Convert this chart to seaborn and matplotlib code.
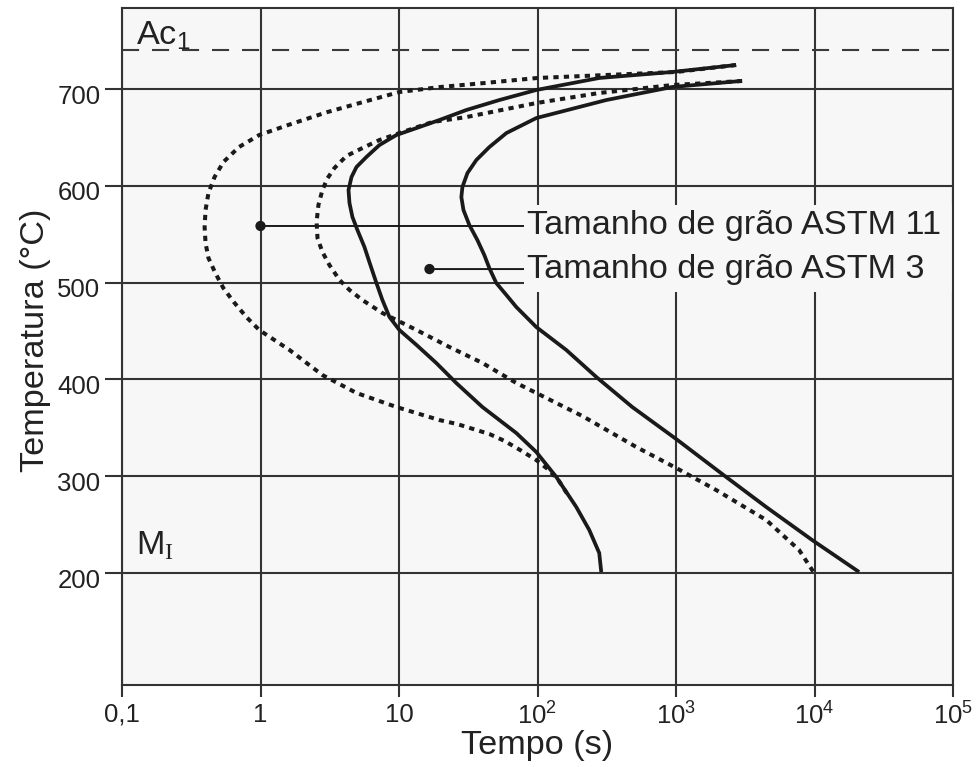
import matplotlib
matplotlib.use("Agg")
import numpy as np
import pandas as pd
import matplotlib.pyplot as plt
import seaborn as sns
from matplotlib.patches import Rectangle
from matplotlib.ticker import NullLocator, FixedLocator, FixedFormatter
from matplotlib.transforms import ScaledTranslation

# ---------------- data ----------------
# Grain size ASTM 11 - start of transformation (outer dotted curve)
t_g11_ini = [2717, 1003, 99.7, 40.0, 19.6, 10.07, 5.18, 3.01, 1.62, 0.98, 0.70, 0.54,
             0.466, 0.421, 0.401, 0.395, 0.401, 0.421, 0.472, 0.539, 0.642, 0.790,
             0.98, 1.62, 2.80, 4.93, 9.58, 19.6, 26.3, 44.9, 57.9, 74.8, 98, 121,
             143, 169.5]
T_g11_ini = [724.8, 717.6, 711.4, 706, 702, 696.9, 685.5, 676, 663.3, 652.5, 640.1,
             624.6, 609.1, 592.6, 575, 557.4, 540.9, 525.4, 509.9, 494.4, 479.9, 464.5,
             451, 430.4, 404.5, 386, 371.5, 358, 353.9, 343.6, 336.4, 327.1, 316.7,
             306.4, 295, 278.5]

# Grain size ASTM 11 - end of transformation (inner dotted curve)
t_g11_fim = [3005, 939, 279, 98, 30.6, 17.4, 10.07, 7.22, 5.35, 4.17, 3.42, 3.04, 2.80,
             2.62, 2.54, 2.58, 2.80, 3.15, 3.72, 4.39, 5.44, 7.59, 13.4, 23.1, 40, 70.3,
             98, 210.6, 516, 1003, 1950, 4478, 7740, 9937]
T_g11_fim = [708.3, 704.1, 695.9, 685.5, 671, 665.9, 654.5, 647.3, 638.5, 630.8, 618.4,
             607.6, 595.7, 580.2, 562.6, 546, 531.6, 518, 502.7, 492.4, 482, 468.6, 451,
             433.5, 417, 396.3, 386, 362.2, 330.2, 308.5, 285.7, 254.8, 223.8, 200]

# Grain size ASTM 3 - start of transformation (left solid curve)
t_g3_ini = [2717, 939, 279, 98, 53, 30.6, 19.6, 13.4, 9.58, 7.22, 5.82, 4.93, 4.54,
            4.32, 4.39, 4.61, 5.01, 5.63, 6.11, 6.87, 7.59, 8.53, 10.07, 13.4, 18.6,
            25.9, 40, 70.3, 98, 136.7, 190.5, 236.5, 279, 288.6]
T_g3_ini = [724.8, 717.6, 711.4, 699, 688.6, 678.3, 668, 659.7, 652.5, 642.1, 629.8,
            619.4, 609.1, 595.7, 582.2, 567.8, 554.3, 536.8, 521.3, 499.6, 482, 464.5,
            451, 435.5, 416.9, 396.3, 371.5, 344.6, 325, 299.2, 268.2, 244.4, 220.7, 201]

# Grain size ASTM 3 - end of transformation (right solid curve)
t_g3_fim = [2953, 939, 313.6, 98, 59.6, 44.9, 36.2, 31.2, 28.7, 28.2, 29.2, 32.2, 36.8,
            41.3, 44.9, 50.4, 59.6, 70.3, 98, 161.4, 265.7, 483, 1003, 2154, 4478, 9610,
            21000]
T_g3_fim = [708.3, 702.1, 688.6, 670, 654.5, 640, 626.7, 613.2, 598.8, 588.4, 575,
            559.5, 544, 528.5, 515, 499.6, 487.2, 474.8, 454.1, 430.4, 402.5, 371.5,
            338.4, 302.3, 268.2, 234.1, 201]

T_ac1 = 740.3
x_ticks = [0.1, 1, 10, 100, 1000, 10000, 100000]
x_labels = ["0,1", "1", "10", r"10$^\mathsf{2}$", r"10$^\mathsf{3}$",
            r"10$^\mathsf{4}$", r"10$^\mathsf{5}$"]
y_ticks = [200, 300, 400, 500, 600, 700]
y_labels = ["200", "300", "400", "500", "600", "700"]

label_texts = ["Tamanho de grão ASTM 11", "Tamanho de grão ASTM 3"]
label_dot_t = [1.0, 16.6]
label_dot_T = [558.5, 514.0]
label_text_t = [84.3, 84.3]
label_box_t = (80.3, 1e5)
label_box_T = (490.3, 580.2)

# ---------------- style ----------------
sns.set_theme(style="white")
plt.rcParams['font.family'] = ['Liberation Sans', 'DejaVu Sans']
plt.rcParams['mathtext.fontset'] = 'custom'
plt.rcParams['mathtext.rm'] = 'Liberation Serif'
plt.rcParams['mathtext.sf'] = 'Liberation Sans'
plt.rcParams['mathtext.it'] = 'Liberation Sans:italic'

gc = '#333333'
bg = '#f7f7f7'
ink = '#1a1a1a'
txt_c = '#222222'
fs_big = 24.7

fig = plt.figure(figsize=(9.77, 7.67), dpi=100)
fig.patch.set_facecolor('white')
ax = fig.add_axes([122/977, 1-685/767, (953-122)/977, (685-8)/767])
ax.set_facecolor(bg)
ax.set_xscale('log')
ax.set_xlim(0.1, 1e5)
ax.set_ylim(84.3, 783.7)

# ---------------- curves ----------------
solid_lw = 2.7
dot_lw = 2.9
for t, T, style in [(t_g11_ini, T_g11_ini, 'dot'), (t_g11_fim, T_g11_fim, 'dot'),
                    (t_g3_ini, T_g3_ini, 'solid'), (t_g3_fim, T_g3_fim, 'solid')]:
    df = pd.DataFrame({'t': t, 'T': T})
    sns.lineplot(data=df, x='t', y='T', sort=False, estimator=None, ax=ax,
                 color=ink, lw=dot_lw if style == 'dot' else solid_lw, zorder=3)
    line = ax.lines[-1]
    line.set_solid_capstyle('butt')
    line.set_solid_joinstyle('round')
    if style == 'dot':
        line.set_dashes((1.3, 1.3))
        line.set_dash_capstyle('butt')

# Ac1 line
ax.axhline(T_ac1, color='#3a3a3a', lw=1.5, dashes=(8.2, 6.2), zorder=2)

# ---------------- grid / ticks ----------------
ax.xaxis.set_major_locator(FixedLocator(x_ticks))
ax.xaxis.set_major_formatter(FixedFormatter(x_labels))
ax.xaxis.set_minor_locator(NullLocator())
ax.yaxis.set_major_locator(FixedLocator(y_ticks))
ax.yaxis.set_major_formatter(FixedFormatter(y_labels))
ax.yaxis.set_minor_locator(NullLocator())
ax.grid(True, which='major', color=gc, lw=1.5)
ax.set_axisbelow(True)
for s in ax.spines.values():
    s.set_color(gc)
    s.set_linewidth(1.5)
    s.set_visible(True)
ax.tick_params(axis='y', direction='out', length=12.5, width=1.5, color=gc,
               labelsize=18.5, pad=3, labelcolor=txt_c, left=True)
ax.tick_params(axis='x', direction='out', length=8.6, width=1.5, color=gc,
               labelsize=18.5, pad=4, labelcolor=txt_c, bottom=True)
off = ScaledTranslation(0, -5/100, fig.dpi_scale_trans)
for lab in ax.get_yticklabels():
    lab.set_transform(lab.get_transform() + off)

ax.set_xlabel("Tempo (s)", fontsize=fs_big, color=txt_c)
ax.set_ylabel("Temperatura (°C)", fontsize=fs_big, color=txt_c)
ax.xaxis.set_label_coords(0.4994, -0.066)
ax.yaxis.set_label_coords(-0.086, 0.5096)

# ---------------- annotations ----------------
ax.text(0.127, 745.5, r"Ac$_\mathsf{1}$", fontsize=fs_big, color=txt_c, va='baseline')
ax.text(0.127, 218.6, r"M$_\mathrm{I}$", fontsize=fs_big, color=txt_c, va='baseline')

# background box that hides the grid behind the labels
ax.add_patch(Rectangle((label_box_t[0], label_box_T[0]),
                       label_box_t[1] - label_box_t[0], label_box_T[1] - label_box_T[0],
                       fc=bg, ec='none', zorder=1))

sns.scatterplot(x=label_dot_t, y=label_dot_T, ax=ax, color=ink, s=55,
                edgecolor='none', zorder=4, legend=False)
for txt, xd, yd, xt in zip(label_texts, label_dot_t, label_dot_T, label_text_t):
    ax.annotate(txt, xy=(xd, yd), xytext=(xt, yd), fontsize=fs_big, color=txt_c,
                ha='left', va='center', zorder=5,
                bbox=dict(boxstyle='square,pad=0.1', fc=bg, ec='none'),
                arrowprops=dict(arrowstyle='-', color=ink, lw=1.4,
                                shrinkA=0, shrinkB=0))

fig.savefig("out.png", dpi=100, facecolor='white')
